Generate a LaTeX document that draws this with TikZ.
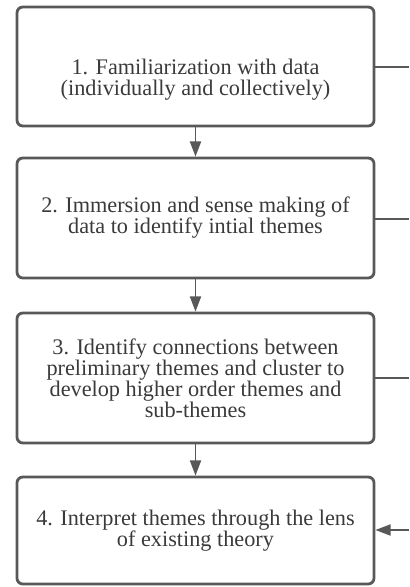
\documentclass[tikz,border=0pt]{standalone}
\usepackage{fontspec}
\setmainfont{Liberation Serif}
\usetikzlibrary{arrows.meta}
\definecolor{BoxGray}{RGB}{88,88,88}
\definecolor{TextGray}{RGB}{58,58,58}
\tikzset{
  stagebox/.style={draw=BoxGray,line width=2.4pt,rounded corners=5pt,minimum width=10.71cm,
    align=center,text=TextGray,font=\fontsize{19}{18}\selectfont},
  flow/.style={draw=BoxGray,line width=1.4pt,-{Triangle[width=9.5pt,length=13pt]}},
  link/.style={draw=BoxGray,line width=1.4pt}
}
\begin{document}
\begin{tikzpicture}[x=0.03cm,y=-0.03cm]
\useasboundingbox (0,0) rectangle (409,587);
\node[stagebox,minimum height=3.57cm] (s1) at (195.5,66.5)
  {\rule{0pt}{1.9em}1. Familiarization with data\\(individually and collectively)};
\node[stagebox,minimum height=3.6cm] (s2) at (195.5,218)
  {2. Immersion and sense making of\\data to identify intial themes};
\node[stagebox,minimum height=3.9cm] (s3) at (195.5,378)
  {3. Identify connections between\\preliminary themes and cluster to\\develop higher order themes and\\sub-themes};
\node[stagebox,minimum height=3.21cm] (s4) at (195.5,530.5)
  {4. Interpret themes through the lens\\of existing theory};
% downward flow between the stages
\foreach \a/\b in {s1/s2,s2/s3,s3/s4}{\draw[flow] (\a) -- (\b);}
% links leaving to the right
\foreach \s/\y in {s1/67,s2/219,s3/378}{\coordinate (e\s) at (409,\y); \draw[link] (\s.east |- e\s) -- (e\s);}
\coordinate (es4) at (409,530);
\draw[flow] (es4) -- (s4.east |- es4);
\end{tikzpicture}
\end{document}
